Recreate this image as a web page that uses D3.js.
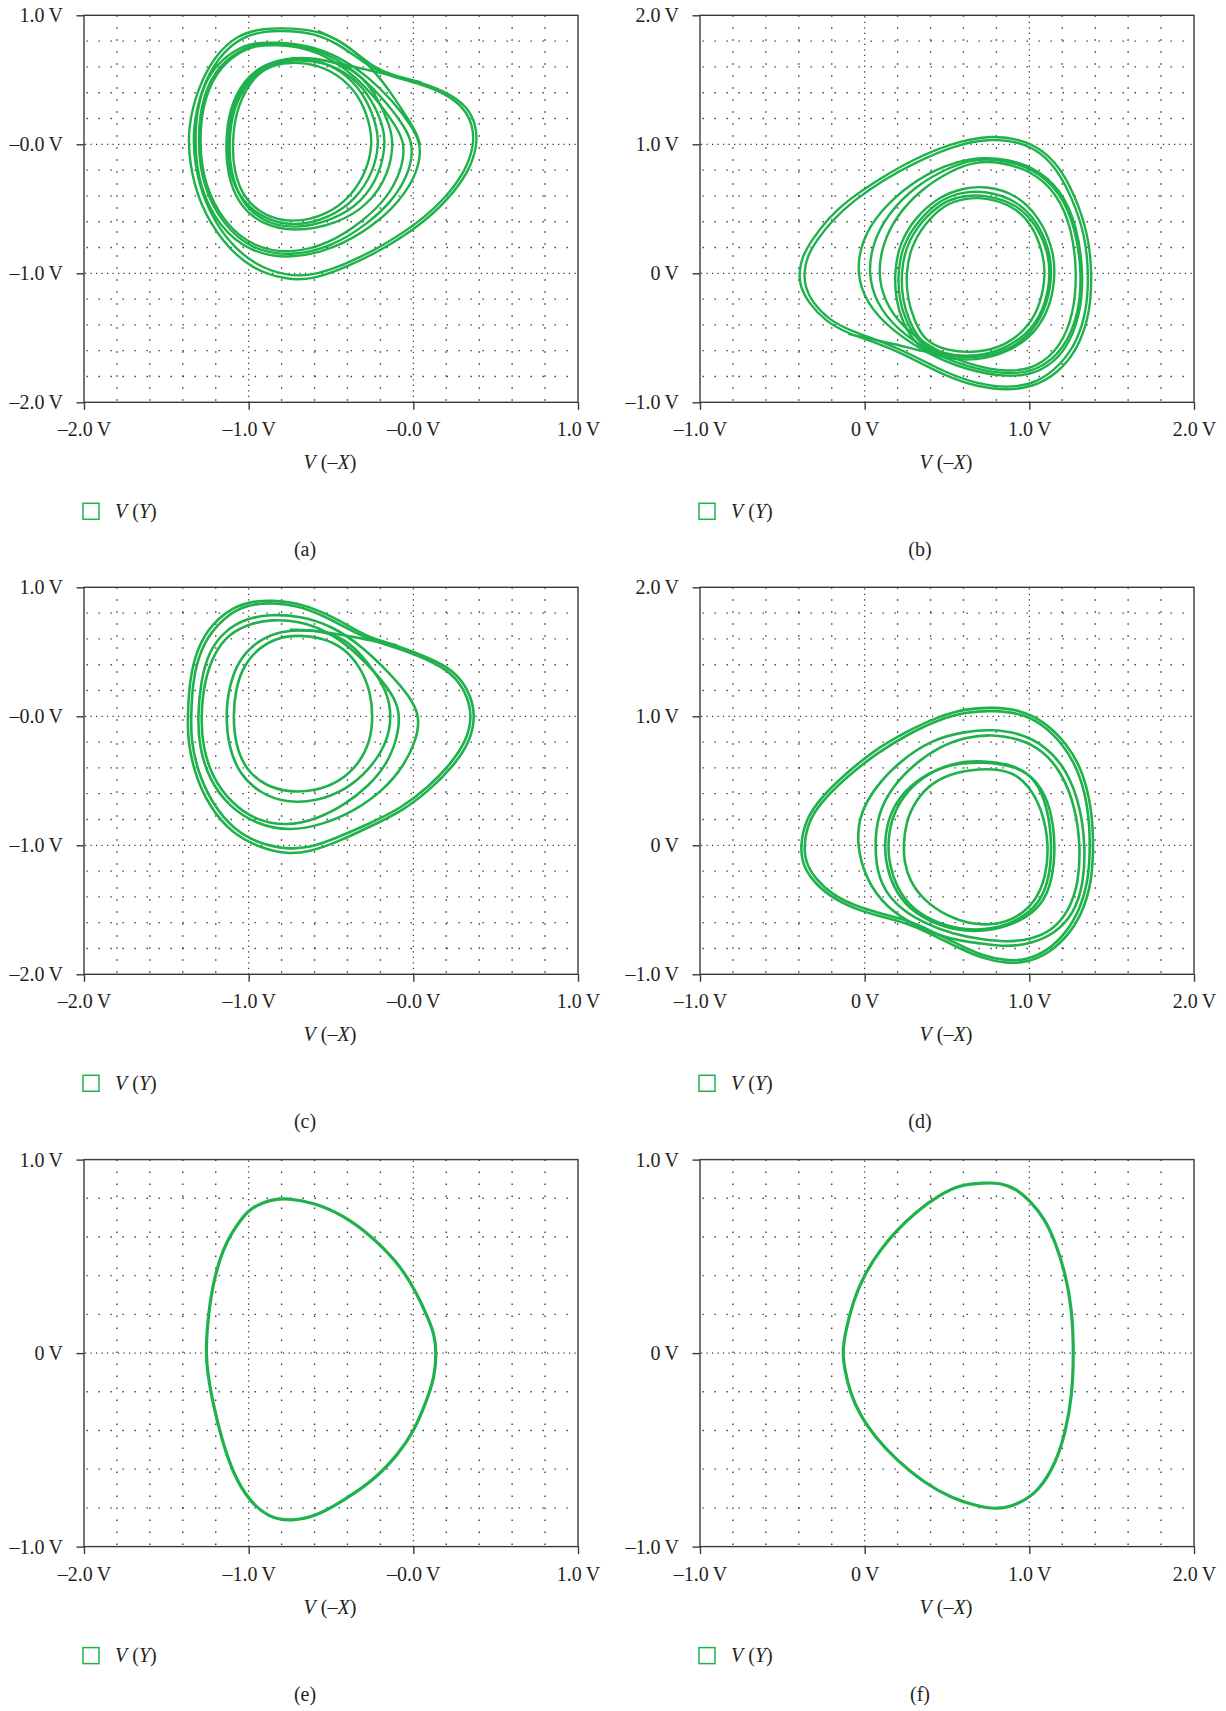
<!DOCTYPE html>
<html>
<head>
<meta charset="utf-8">
<script src="https://cdn.jsdelivr.net/npm/d3@7"></script>
<style>
  body { margin: 0; background: #fff; }
  svg text { font-family: 'Liberation Serif', 'Times New Roman', serif; fill: #231f20; }
</style>
</head>
<body>
<div id="chart"></div>
<script>
// TICKS / LABELS
const xTicksLeft = [-2, -1, 0, 1]
const xLabelsLeft = ['–2.0\u2009V', '–1.0\u2009V', '–0.0\u2009V', '1.0\u2009V']
const xTicksRight = [-1, 0, 1, 2]
const xLabelsRight = ['–1.0\u2009V', '0\u2009V', '1.0\u2009V', '2.0\u2009V']
const yTicksAC = [1, 0, -1, -2]
const yLabelsAC = ['1.0\u2009V', '–0.0\u2009V', '–1.0\u2009V', '–2.0\u2009V']
const yTicksBD = [2, 1, 0, -1]
const yLabelsBD = ['2.0\u2009V', '1.0\u2009V', '0\u2009V', '–1.0\u2009V']
const yTicksEF = [1, 0, -1]
const yLabelsEF = ['1.0\u2009V', '0\u2009V', '–1.0\u2009V']
const panelLabels = ['(a)', '(b)', '(c)', '(d)', '(e)', '(f)']

// TRAJECTORIES, [V(-X), V(Y)] in volts
const loopsA = [
  [[0.39,0.00],[0.38,0.15],[0.33,0.29],[0.21,0.40],[0.05,0.48],[-0.14,0.54],[-0.24,0.60],[-0.33,0.69],[-0.44,0.80],[-0.58,0.88],[-0.74,0.90],[-0.91,0.90],[-1.07,0.85],[-1.21,0.68],[-1.31,0.43],[-1.37,0.13],[-1.36,-0.15],[-1.30,-0.46],[-1.16,-0.76],[-0.98,-0.97],[-0.77,-1.05],[-0.62,-1.05],[-0.42,-0.96],[-0.19,-0.82],[0.05,-0.62],[0.21,-0.43],[0.34,-0.21]],
  [[0.37,0.00],[0.36,0.15],[0.31,0.28],[0.20,0.39],[0.04,0.47],[-0.15,0.53],[-0.25,0.59],[-0.35,0.68],[-0.46,0.78],[-0.60,0.86],[-0.75,0.88],[-0.90,0.88],[-1.05,0.83],[-1.19,0.67],[-1.29,0.42],[-1.34,0.12],[-1.33,-0.15],[-1.27,-0.45],[-1.14,-0.74],[-0.96,-0.94],[-0.77,-1.02],[-0.62,-1.02],[-0.43,-0.94],[-0.20,-0.80],[0.04,-0.60],[0.20,-0.41],[0.32,-0.20]],
  [[-0.84,0.78],[-0.65,0.76],[-0.47,0.67],[-0.30,0.51],[-0.16,0.32],[-0.05,0.13],[0.00,0.00],[-0.02,-0.21],[-0.12,-0.43],[-0.28,-0.62],[-0.49,-0.79],[-0.74,-0.87],[-0.98,-0.82],[-1.16,-0.62],[-1.28,-0.32],[-1.31,0.00],[-1.29,0.32],[-1.21,0.57],[-1.07,0.72],[-0.95,0.78]],
  [[-0.84,0.79],[-0.64,0.77],[-0.45,0.68],[-0.27,0.52],[-0.12,0.33],[-0.01,0.14],[0.05,0.00],[0.03,-0.21],[-0.08,-0.44],[-0.25,-0.64],[-0.48,-0.81],[-0.74,-0.89],[-0.99,-0.84],[-1.18,-0.64],[-1.30,-0.33],[-1.33,0.00],[-1.31,0.33],[-1.23,0.58],[-1.08,0.74],[-0.96,0.79]],
  [[-0.83,0.77],[-0.66,0.75],[-0.49,0.66],[-0.33,0.50],[-0.20,0.31],[-0.10,0.13],[-0.05,0.00],[-0.07,-0.20],[-0.16,-0.42],[-0.31,-0.60],[-0.51,-0.77],[-0.74,-0.85],[-0.97,-0.80],[-1.15,-0.61],[-1.27,-0.31],[-1.30,0.00],[-1.28,0.31],[-1.20,0.56],[-1.07,0.71],[-0.95,0.77]],
  [[-0.74,0.67],[-0.56,0.65],[-0.40,0.54],[-0.28,0.35],[-0.22,0.13],[-0.21,0.00],[-0.24,-0.21],[-0.35,-0.43],[-0.51,-0.57],[-0.72,-0.64],[-0.91,-0.58],[-1.05,-0.43],[-1.12,-0.21],[-1.13,0.00],[-1.11,0.26],[-1.02,0.49],[-0.91,0.62]],
  [[-0.73,0.66],[-0.54,0.64],[-0.37,0.53],[-0.25,0.35],[-0.18,0.13],[-0.17,0.00],[-0.20,-0.22],[-0.31,-0.45],[-0.49,-0.59],[-0.72,-0.66],[-0.92,-0.60],[-1.05,-0.44],[-1.11,-0.21],[-1.12,0.00],[-1.10,0.26],[-1.01,0.48],[-0.90,0.61]],
  [[-0.72,0.68],[-0.52,0.66],[-0.33,0.56],[-0.22,0.37],[-0.14,0.14],[-0.12,0.00],[-0.15,-0.23],[-0.27,-0.47],[-0.47,-0.62],[-0.72,-0.68],[-0.93,-0.62],[-1.07,-0.45],[-1.13,-0.22],[-1.14,0.00],[-1.12,0.27],[-1.03,0.50],[-0.90,0.63]],
  [[-0.75,0.64],[-0.58,0.62],[-0.43,0.52],[-0.31,0.34],[-0.26,0.13],[-0.25,0.00],[-0.28,-0.20],[-0.38,-0.41],[-0.53,-0.55],[-0.73,-0.61],[-0.90,-0.56],[-1.03,-0.42],[-1.09,-0.21],[-1.10,0.00],[-1.08,0.25],[-1.00,0.47],[-0.90,0.60]]
]
const linksA = [
  [[0.05,0.48],[-0.19,0.55],[-0.42,0.62],[-0.58,0.66],[-0.74,0.67]],
  [[-0.58,0.88],[-0.44,0.80],[-0.33,0.69],[-0.24,0.57],[-0.14,0.41],[-0.05,0.23],[0.02,0.09],[0.04,0.00]]
]

const loopsB = [
  [[-0.40,0.00],[-0.38,0.13],[-0.32,0.26],[-0.22,0.43],[-0.10,0.57],[0.10,0.74],[0.29,0.88],[0.53,1.01],[0.77,1.075],[0.99,1.03],[1.16,0.88],[1.28,0.60],[1.36,0.29],[1.38,0.00],[1.37,-0.29],[1.31,-0.54],[1.21,-0.73],[1.06,-0.87],[0.87,-0.91],[0.68,-0.88],[0.48,-0.79],[0.29,-0.66],[0.10,-0.55],[-0.10,-0.47],[-0.24,-0.37],[-0.34,-0.23],[-0.39,-0.11]],
  [[-0.37,0.00],[-0.35,0.13],[-0.29,0.26],[-0.19,0.42],[-0.07,0.56],[0.12,0.73],[0.31,0.86],[0.54,0.99],[0.77,1.05],[0.98,1.01],[1.14,0.87],[1.26,0.59],[1.34,0.29],[1.36,0.00],[1.35,-0.28],[1.29,-0.53],[1.19,-0.71],[1.05,-0.85],[0.87,-0.89],[0.69,-0.86],[0.49,-0.77],[0.30,-0.64],[0.11,-0.53],[-0.08,-0.45],[-0.22,-0.36],[-0.32,-0.22],[-0.36,-0.11]],
  [[0.80,0.89],[1.02,0.82],[1.19,0.63],[1.28,0.35],[1.32,0.00],[1.30,-0.32],[1.21,-0.59],[1.06,-0.75],[0.87,-0.79],[0.63,-0.73],[0.41,-0.62],[0.19,-0.43],[0.07,-0.23],[0.02,0.00],[0.05,0.24],[0.14,0.46],[0.31,0.68],[0.51,0.82],[0.65,0.88]],
  [[0.79,0.90],[1.02,0.84],[1.20,0.64],[1.29,0.36],[1.33,0.00],[1.31,-0.33],[1.22,-0.61],[1.07,-0.77],[0.87,-0.81],[0.62,-0.75],[0.39,-0.63],[0.16,-0.44],[0.01,-0.23],[-0.05,0.00],[-0.02,0.25],[0.09,0.48],[0.28,0.70],[0.49,0.84],[0.64,0.89]],
  [[0.80,0.87],[1.01,0.80],[1.17,0.62],[1.26,0.34],[1.29,0.00],[1.27,-0.31],[1.19,-0.57],[1.05,-0.73],[0.87,-0.77],[0.64,-0.71],[0.43,-0.60],[0.23,-0.42],[0.12,-0.22],[0.08,0.00],[0.11,0.23],[0.19,0.44],[0.34,0.65],[0.53,0.80],[0.66,0.86]],
  [[0.73,0.61],[0.92,0.54],[1.04,0.38],[1.11,0.18],[1.13,0.00],[1.10,-0.24],[1.02,-0.43],[0.87,-0.58],[0.68,-0.65],[0.48,-0.63],[0.34,-0.54],[0.27,-0.37],[0.23,-0.21],[0.22,0.00],[0.25,0.21],[0.34,0.40],[0.48,0.56],[0.60,0.60]],
  [[0.73,0.68],[0.93,0.61],[1.06,0.43],[1.14,0.21],[1.16,0.00],[1.13,-0.25],[1.04,-0.46],[0.88,-0.61],[0.68,-0.68],[0.47,-0.66],[0.31,-0.56],[0.23,-0.38],[0.19,-0.21],[0.18,0.00],[0.21,0.23],[0.31,0.44],[0.46,0.60],[0.60,0.66]],
  [[0.73,0.64],[0.92,0.57],[1.05,0.40],[1.12,0.19],[1.14,0.00],[1.11,-0.24],[1.03,-0.44],[0.88,-0.60],[0.68,-0.66],[0.48,-0.64],[0.33,-0.55],[0.25,-0.37],[0.21,-0.21],[0.20,0.00],[0.23,0.22],[0.33,0.42],[0.47,0.58],[0.60,0.63]],
  [[0.73,0.59],[0.91,0.52],[1.02,0.37],[1.08,0.17],[1.10,0.00],[1.07,-0.23],[1.00,-0.41],[0.86,-0.56],[0.68,-0.62],[0.49,-0.60],[0.36,-0.52],[0.30,-0.36],[0.26,-0.20],[0.25,0.00],[0.28,0.20],[0.36,0.38],[0.49,0.54],[0.61,0.58]]
]
const linksB = [
  [[-0.10,-0.47],[0.19,-0.55],[0.39,-0.62],[0.58,-0.65],[0.77,-0.635]]
]

const loopsC = [
  [[0.38,0.00],[0.34,0.20],[0.24,0.36],[0.10,0.45],[-0.10,0.55],[-0.27,0.61],[-0.39,0.70],[-0.55,0.81],[-0.71,0.88],[-0.85,0.90],[-0.99,0.89],[-1.10,0.84],[-1.22,0.72],[-1.31,0.54],[-1.36,0.28],[-1.37,0.00],[-1.37,-0.18],[-1.33,-0.44],[-1.24,-0.70],[-1.10,-0.91],[-0.93,-1.02],[-0.77,-1.07],[-0.63,-1.05],[-0.47,-0.98],[-0.27,-0.86],[-0.06,-0.73],[0.10,-0.57],[0.24,-0.39],[0.34,-0.21]],
  [[0.36,0.00],[0.32,0.19],[0.23,0.34],[0.09,0.44],[-0.10,0.53],[-0.28,0.60],[-0.40,0.68],[-0.56,0.79],[-0.71,0.86],[-0.85,0.88],[-0.98,0.87],[-1.09,0.82],[-1.20,0.70],[-1.29,0.53],[-1.34,0.28],[-1.35,0.00],[-1.35,-0.18],[-1.31,-0.43],[-1.22,-0.68],[-1.09,-0.88],[-0.93,-0.99],[-0.77,-1.03],[-0.63,-1.02],[-0.48,-0.95],[-0.28,-0.84],[-0.07,-0.71],[0.09,-0.55],[0.22,-0.38],[0.32,-0.20]],
  [[-0.87,0.79],[-0.69,0.78],[-0.49,0.70],[-0.31,0.54],[-0.14,0.33],[-0.02,0.15],[0.04,0.00],[0.02,-0.18],[-0.06,-0.39],[-0.18,-0.57],[-0.35,-0.73],[-0.55,-0.84],[-0.75,-0.89],[-0.95,-0.84],[-1.12,-0.70],[-1.24,-0.49],[-1.30,-0.24],[-1.31,0.00],[-1.29,0.28],[-1.24,0.51],[-1.14,0.67],[-1.01,0.76]],
  [[-0.86,0.75],[-0.70,0.74],[-0.52,0.66],[-0.36,0.51],[-0.21,0.31],[-0.11,0.14],[-0.08,0.00],[-0.10,-0.18],[-0.16,-0.37],[-0.27,-0.54],[-0.42,-0.69],[-0.59,-0.80],[-0.77,-0.85],[-0.95,-0.81],[-1.10,-0.68],[-1.22,-0.48],[-1.28,-0.23],[-1.29,0.00],[-1.27,0.27],[-1.21,0.49],[-1.12,0.64],[-0.99,0.72]],
  [[-0.71,0.67],[-0.53,0.66],[-0.39,0.58],[-0.27,0.41],[-0.16,0.20],[-0.13,0.00],[-0.16,-0.21],[-0.27,-0.42],[-0.41,-0.57],[-0.59,-0.66],[-0.77,-0.67],[-0.93,-0.60],[-1.06,-0.44],[-1.12,-0.24],[-1.14,0.00],[-1.12,0.23],[-1.06,0.44],[-0.95,0.58],[-0.83,0.65]],
  [[-0.71,0.63],[-0.55,0.61],[-0.42,0.53],[-0.32,0.38],[-0.26,0.19],[-0.245,0.00],[-0.26,-0.19],[-0.33,-0.37],[-0.45,-0.51],[-0.60,-0.58],[-0.75,-0.59],[-0.90,-0.54],[-1.02,-0.41],[-1.08,-0.22],[-1.095,0.00],[-1.08,0.21],[-1.03,0.40],[-0.93,0.54],[-0.82,0.61]]
]
const linksC = [
  [[-0.10,0.55],[-0.30,0.60],[-0.47,0.64],[-0.63,0.67],[-0.75,0.67]]
]

const loopsD = [
  [[-0.39,0.00],[-0.36,0.20],[-0.26,0.38],[-0.11,0.56],[0.05,0.73],[0.25,0.88],[0.45,1.00],[0.62,1.06],[0.78,1.07],[0.94,1.05],[1.08,0.97],[1.23,0.79],[1.33,0.56],[1.38,0.27],[1.39,0.00],[1.38,-0.27],[1.33,-0.50],[1.25,-0.68],[1.12,-0.84],[0.98,-0.91],[0.86,-0.915],[0.72,-0.88],[0.56,-0.79],[0.39,-0.68],[0.25,-0.60],[0.09,-0.55],[-0.07,-0.49],[-0.22,-0.39],[-0.32,-0.27],[-0.38,-0.14]],
  [[-0.37,0.00],[-0.34,0.20],[-0.24,0.37],[-0.09,0.55],[0.07,0.71],[0.26,0.86],[0.46,0.98],[0.62,1.035],[0.78,1.045],[0.94,1.025],[1.07,0.95],[1.21,0.78],[1.31,0.55],[1.36,0.27],[1.37,0.00],[1.36,-0.26],[1.31,-0.49],[1.23,-0.67],[1.11,-0.82],[0.98,-0.89],[0.86,-0.895],[0.72,-0.86],[0.57,-0.77],[0.40,-0.66],[0.26,-0.58],[0.10,-0.53],[-0.06,-0.47],[-0.20,-0.38],[-0.30,-0.26],[-0.36,-0.13]],
  [[0.77,0.90],[0.94,0.87],[1.10,0.77],[1.23,0.58],[1.31,0.30],[1.34,0.00],[1.33,-0.30],[1.27,-0.53],[1.16,-0.68],[1.02,-0.76],[0.86,-0.79],[0.70,-0.76],[0.52,-0.73],[0.31,-0.63],[0.13,-0.48],[0.01,-0.27],[-0.05,0.00],[-0.03,0.25],[0.07,0.46],[0.21,0.65],[0.41,0.82],[0.60,0.88]],
  [[0.77,0.86],[0.93,0.83],[1.08,0.74],[1.20,0.56],[1.28,0.29],[1.31,0.00],[1.30,-0.29],[1.24,-0.51],[1.14,-0.66],[1.01,-0.73],[0.86,-0.75],[0.71,-0.73],[0.54,-0.69],[0.35,-0.60],[0.18,-0.46],[0.08,-0.26],[0.06,0.00],[0.08,0.24],[0.16,0.44],[0.29,0.62],[0.46,0.77],[0.62,0.84]],
  [[0.72,0.66],[0.92,0.62],[1.04,0.51],[1.11,0.30],[1.14,0.00],[1.12,-0.27],[1.06,-0.45],[0.94,-0.58],[0.78,-0.65],[0.62,-0.66],[0.45,-0.61],[0.29,-0.50],[0.19,-0.32],[0.15,-0.14],[0.14,0.00],[0.16,0.20],[0.23,0.38],[0.35,0.53],[0.52,0.64]],
  [[0.72,0.65],[0.93,0.61],[1.05,0.50],[1.13,0.30],[1.16,0.00],[1.14,-0.27],[1.08,-0.46],[0.95,-0.59],[0.78,-0.66],[0.61,-0.67],[0.44,-0.62],[0.27,-0.50],[0.17,-0.32],[0.13,-0.14],[0.12,0.00],[0.14,0.20],[0.21,0.38],[0.34,0.53],[0.51,0.63]],
  [[0.74,0.60],[0.90,0.57],[1.00,0.46],[1.08,0.27],[1.12,0.00],[1.10,-0.25],[1.04,-0.43],[0.93,-0.56],[0.79,-0.62],[0.64,-0.61],[0.50,-0.55],[0.36,-0.43],[0.27,-0.27],[0.24,-0.12],[0.235,0.00],[0.25,0.18],[0.31,0.35],[0.41,0.49],[0.56,0.57]]
]
const linksD = []

const loopsE = [
  [[-0.77,0.80],[-0.61,0.78],[-0.42,0.71],[-0.28,0.62],[-0.19,0.55],[-0.07,0.44],[0.02,0.31],[0.09,0.18],[0.13,0.09],[0.14,0.00],[0.13,-0.12],[0.08,-0.25],[0.00,-0.41],[-0.09,-0.52],[-0.23,-0.65],[-0.42,-0.76],[-0.58,-0.84],[-0.74,-0.87],[-0.88,-0.85],[-1.00,-0.76],[-1.09,-0.63],[-1.16,-0.46],[-1.22,-0.25],[-1.25,-0.10],[-1.26,0.00],[-1.25,0.16],[-1.22,0.35],[-1.17,0.50],[-1.13,0.58],[-1.08,0.65],[-1.03,0.71],[-0.98,0.75],[-0.91,0.78],[-0.84,0.795]]
]
const loopsF = [
  [[0.73,0.88],[0.82,0.88],[0.92,0.85],[1.00,0.79],[1.09,0.70],[1.16,0.57],[1.22,0.41],[1.26,0.22],[1.27,0.00],[1.26,-0.22],[1.22,-0.41],[1.16,-0.57],[1.06,-0.71],[0.94,-0.78],[0.80,-0.81],[0.68,-0.79],[0.53,-0.75],[0.36,-0.67],[0.19,-0.55],[0.07,-0.44],[-0.03,-0.32],[-0.09,-0.20],[-0.12,-0.09],[-0.135,0.00],[-0.12,0.10],[-0.07,0.27],[0.00,0.41],[0.10,0.54],[0.19,0.63],[0.31,0.73],[0.46,0.82],[0.58,0.87]]
]

// SETTINGS
const settings = {
  width: 1226,
  height: 1711,
  colX: [84, 700],
  rowY: [15.3, 587.3, 1159.6],
  plotW: 494,
  plotH: 387,
  colLabelX: [305, 920],
  green: '#1fb14b',
  axisColor: '#3a3a3a',
  fontSize: 20,
  minorStep: 0.2
}

const svg = d3.select('#chart').append('svg')
  .attr('width', settings.width)
  .attr('height', settings.height)
  .style('background', '#fff')

const panelDefs = [
  { col: 0, row: 0, xDom: [-2, 1], yDom: [-2, 1], xT: xTicksLeft, xL: xLabelsLeft, yT: yTicksAC, yL: yLabelsAC, loops: loopsA, links: linksA, sw: 2.4 },
  { col: 1, row: 0, xDom: [-1, 2], yDom: [-1, 2], xT: xTicksRight, xL: xLabelsRight, yT: yTicksBD, yL: yLabelsBD, loops: loopsB, links: linksB, sw: 2.4 },
  { col: 0, row: 1, xDom: [-2, 1], yDom: [-2, 1], xT: xTicksLeft, xL: xLabelsLeft, yT: yTicksAC, yL: yLabelsAC, loops: loopsC, links: linksC, sw: 2.6 },
  { col: 1, row: 1, xDom: [-1, 2], yDom: [-1, 2], xT: xTicksRight, xL: xLabelsRight, yT: yTicksBD, yL: yLabelsBD, loops: loopsD, links: linksD, sw: 2.6 },
  { col: 0, row: 2, xDom: [-2, 1], yDom: [-1, 1], xT: xTicksLeft, xL: xLabelsLeft, yT: yTicksEF, yL: yLabelsEF, loops: loopsE, links: [], sw: 3.2 },
  { col: 1, row: 2, xDom: [-1, 2], yDom: [-1, 1], xT: xTicksRight, xL: xLabelsRight, yT: yTicksEF, yL: yLabelsEF, loops: loopsF, links: [], sw: 3.2 }
]

panelDefs.forEach((p, i) => drawPanel(p, panelLabels[i]))

function minorValues(dom) {
  const out = []
  for (let v = dom[0] + settings.minorStep; v < dom[1] - 1e-6; v += settings.minorStep) {
    const r = Math.round(v * 5) / 5
    if (Math.abs(r - Math.round(r)) > 1e-6) out.push(r)
  }
  return out
}

function drawPanel(p, label) {
  const x0 = settings.colX[p.col]
  const y0 = settings.rowY[p.row]
  const W = settings.plotW
  const H = settings.plotH

  const x = d3.scaleLinear().domain(p.xDom).range([0, W])
  const y = d3.scaleLinear().domain(p.yDom).range([H, 0])

  const g = svg.append('g').attr('transform', `translate(${x0}, ${y0})`)

  // minor dotted grid
  const grid = g.append('g')
  grid.selectAll('.minor-h')
    .data(minorValues(p.yDom))
    .enter().append('line')
    .attr('x1', 2.5).attr('x2', W - 2)
    .attr('y1', d => y(d)).attr('y2', d => y(d))
    .attr('stroke', '#333').attr('stroke-width', 1.35)
    .attr('stroke-dasharray', '1.35 10.65')
  grid.selectAll('.minor-v')
    .data(minorValues(p.xDom))
    .enter().append('line')
    .attr('x1', d => x(d)).attr('x2', d => x(d))
    .attr('y1', 0).attr('y2', H)
    .attr('stroke', '#333').attr('stroke-width', 1.35)
    .attr('stroke-dasharray', '1.35 10.65')

  // major dotted grid at the inner ticks
  grid.selectAll('.major-h')
    .data(p.yT.filter(v => v > p.yDom[0] && v < p.yDom[1]))
    .enter().append('line')
    .attr('x1', 1).attr('x2', W - 2)
    .attr('y1', d => y(d)).attr('y2', d => y(d))
    .attr('stroke', '#333').attr('stroke-width', 1.2)
    .attr('stroke-dasharray', '1.2 4.3')
  grid.selectAll('.major-v')
    .data(p.xT.filter(v => v > p.xDom[0] && v < p.xDom[1]))
    .enter().append('line')
    .attr('x1', d => x(d)).attr('x2', d => x(d))
    .attr('y1', 1).attr('y2', H)
    .attr('stroke', '#333').attr('stroke-width', 1.2)
    .attr('stroke-dasharray', '1.2 4.3')

  // trajectories
  const closed = d3.line()
    .x(d => x(d[0])).y(d => y(d[1]))
    .curve(d3.curveBasisClosed)
  const open = d3.line()
    .x(d => x(d[0])).y(d => y(d[1]))
    .curve(d3.curveBasis)

  g.selectAll('.loop')
    .data(p.loops)
    .enter().append('path')
    .attr('class', 'loop')
    .attr('d', closed)
    .attr('fill', 'none')
    .attr('stroke', settings.green)
    .attr('stroke-width', p.sw)
    .attr('stroke-linejoin', 'round')

  g.selectAll('.link')
    .data(p.links)
    .enter().append('path')
    .attr('class', 'link')
    .attr('d', open)
    .attr('fill', 'none')
    .attr('stroke', settings.green)
    .attr('stroke-width', p.sw)

  // frame
  g.append('rect')
    .attr('x', 0).attr('y', 0)
    .attr('width', W).attr('height', H)
    .attr('fill', 'none')
    .attr('stroke', settings.axisColor)
    .attr('stroke-width', 1.4)

  // axes
  const xAxis = d3.axisBottom(x).tickValues(p.xT).tickSize(7.5).tickFormat((d, i) => p.xL[i])
  const yAxis = d3.axisLeft(y).tickValues(p.yT).tickSize(7.5).tickFormat((d, i) => p.yL[i])

  const gx = g.append('g').attr('transform', `translate(0, ${H})`).call(xAxis)
  const gy = g.append('g').call(yAxis)
  ;[gx, gy].forEach(a => {
    a.select('.domain').remove()
    a.selectAll('.tick line').attr('stroke', settings.axisColor).attr('stroke-width', 1.4)
    a.selectAll('.tick text')
      .style('font-family', "'Liberation Serif', 'Times New Roman', serif")
      .style('font-size', settings.fontSize + 'px')
      .attr('fill', '#231f20')
  })
  gx.selectAll('.tick text').attr('dy', null).attr('y', 34)
  gy.selectAll('.tick text').attr('x', -21).attr('dy', '0.33em')

  // axis title
  const title = g.append('text')
    .attr('x', W / 2 - 1)
    .attr('y', H + 67)
    .attr('text-anchor', 'middle')
    .style('font-size', settings.fontSize + 'px')
  title.append('tspan').style('font-style', 'italic').text('V')
  title.append('tspan').text(' (–')
  title.append('tspan').style('font-style', 'italic').text('X')
  title.append('tspan').text(')')

  // legend
  g.append('rect')
    .attr('x', -1).attr('y', H + 101)
    .attr('width', 16).attr('height', 16)
    .attr('fill', 'none')
    .attr('stroke', settings.green)
    .attr('stroke-width', 1.5)
  const leg = g.append('text')
    .attr('x', 31)
    .attr('y', H + 115.5)
    .style('font-size', settings.fontSize + 'px')
  leg.append('tspan').style('font-style', 'italic').text('V')
  leg.append('tspan').text(' (')
  leg.append('tspan').style('font-style', 'italic').text('Y')
  leg.append('tspan').text(')')

  // sub-figure label
  svg.append('text')
    .attr('x', settings.colLabelX[p.col])
    .attr('y', y0 + H + 154)
    .attr('text-anchor', 'middle')
    .style('font-size', settings.fontSize + 'px')
    .text(label)
}
</script>
</body>
</html>
